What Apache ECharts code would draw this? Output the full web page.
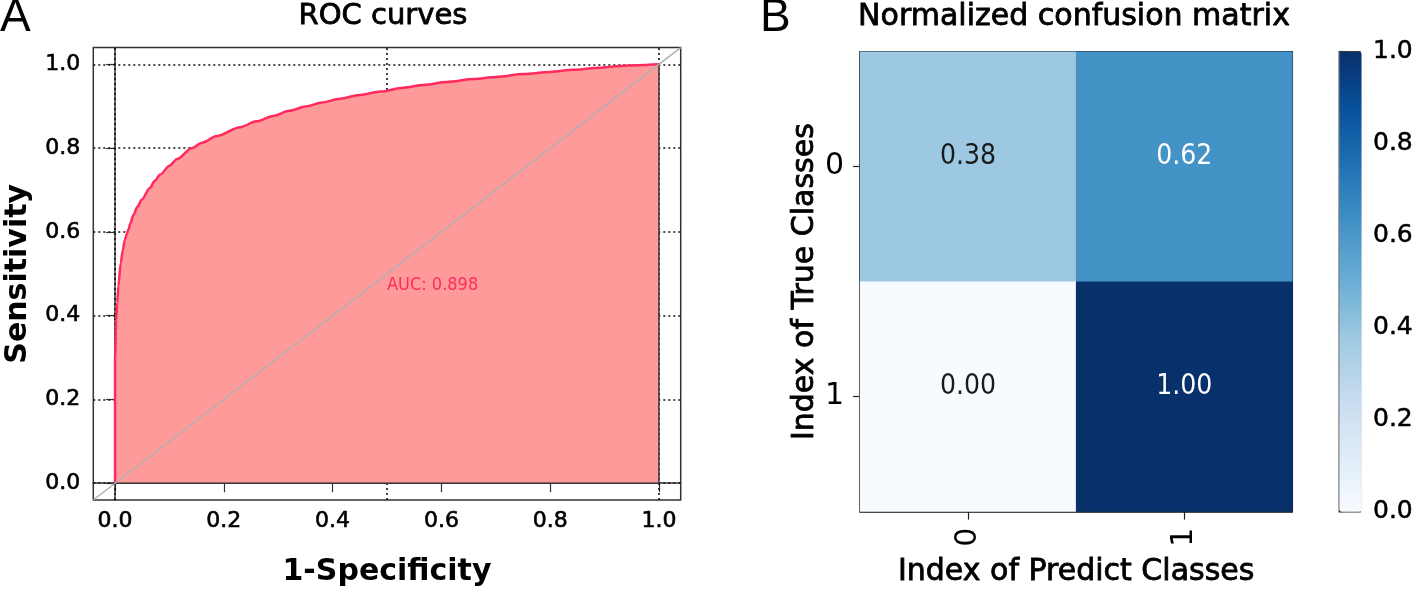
<!DOCTYPE html>
<html>
<head>
<meta charset="utf-8">
<script src="https://cdn.jsdelivr.net/npm/echarts@6/dist/echarts.min.js"></script>
<style>
html,body{margin:0;padding:0;background:#fff;}
#main{width:1416px;height:593px;}
</style>
</head>
<body>
<div id="main"></div>
<script>
// ROC curve
var rocFpr = [0, 0, 0.002, 0.004, 0.006, 0.0105, 0.014, 0.018, 0.021, 0.0245, 0.028, 0.034, 0.041, 0.049, 0.064, 0.073, 0.083, 0.100, 0.114, 0.141, 0.160, 0.187, 0.230, 0.260, 0.291, 0.320, 0.353, 0.380, 0.414, 0.450, 0.488, 0.530, 0.567, 0.610, 0.660, 0.700, 0.752, 0.800, 0.844, 0.890, 0.929, 0.960, 1.0];
var rocTpr = [0, 0.30, 0.39, 0.43, 0.47, 0.526, 0.555, 0.581, 0.593, 0.605, 0.620, 0.641, 0.660, 0.677, 0.705, 0.722, 0.737, 0.758, 0.774, 0.800, 0.813, 0.829, 0.850, 0.864, 0.877, 0.889, 0.900, 0.909, 0.918, 0.927, 0.935, 0.944, 0.951, 0.958, 0.965, 0.970, 0.977, 0.982, 0.987, 0.992, 0.996, 0.998, 1.0];
var aucText = 'AUC: 0.898';
var aucPos = [0.5, 0.473];
var diagonal = [[-0.04, -0.04], [1.04, 1.04]];
var fillEdge = [[0, 0], [1, 0], [1, 1]];
var rocTicks = [0, 0.2, 0.4, 0.6, 0.8, 1.0];
var rocGridX = [0, 0.5, 1.0];
var rocGridY = [0, 0.2, 0.4, 0.6, 0.8, 1.0];

// Confusion matrix
var predClasses = ['0', '1'];
var trueClasses = ['0', '1'];
var cmRow0 = [0.38, 0.62];
var cmRow1 = [0.00, 1.00];
var colorbarTicks = [0, 0.2, 0.4, 0.6, 0.8, 1.0];
var blues = ['#f7fbff', '#deebf7', '#c6dbef', '#9ecae1', '#6baed6', '#4292c6', '#2171b5', '#08519c', '#08306b'];

var rocData = rocFpr.map(function (x, i) { return [x, rocTpr[i]]; });
var cmData = [];
[cmRow0, cmRow1].forEach(function (row, r) {
  row.forEach(function (v, c) { cmData.push([c, r, v]); });
});

var F = 'DejaVu Sans';
var NARROW = "'Liberation Sans Narrow', 'DejaVu Sans Condensed', 'Roboto Condensed', Roboto, sans-serif";
var chart = echarts.init(document.getElementById('main'), null, {renderer: 'canvas'});
var markData = rocGridX.map(function (v) { return {xAxis: v}; })
  .concat(rocGridY.map(function (v) { return {yAxis: v}; }));

chart.setOption({
  animation: false,
  backgroundColor: '#ffffff',
  title: [
    {text: 'A', left: 0, top: -5, padding: 0, textStyle: {fontFamily: 'Liberation Sans', fontSize: 46, fontWeight: 'normal', color: '#000'}},
    {text: 'ROC curves', left: 383, top: 2, padding: 0, textAlign: 'center', textStyle: {fontFamily: F, fontSize: 29, fontWeight: 'normal', color: '#000', textBorderColor: '#000', textBorderWidth: 0.8}},
    {text: 'B', left: 760, top: -5, padding: 0, textStyle: {fontFamily: 'Liberation Sans', fontSize: 46, fontWeight: 'normal', color: '#000'}},
    {text: 'Normalized confusion matrix', left: 1074, top: 2, padding: 0, textAlign: 'center', textStyle: {fontFamily: F, fontSize: 30, fontWeight: 'normal', color: '#000', textBorderColor: '#000', textBorderWidth: 0.8}}
  ],
  grid: [
    {left: 93.3, top: 47.6, width: 587.4, height: 452.4, show: true, borderColor: '#333', borderWidth: 1.5, backgroundColor: '#fff', containLabel: false},
    {left: 860, top: 51.7, width: 432.3, height: 460, show: true, borderColor: '#222', borderWidth: 1.5, containLabel: false},
    {left: 1339.3, top: 51.7, width: 22.4, height: 460, show: true, borderColor: '#333', borderWidth: 1.5, containLabel: false}
  ],
  xAxis: [
    {gridIndex: 0, type: 'value', min: -0.04, max: 1.04,
      name: '1-Specificity', nameLocation: 'middle', nameGap: 57,
      nameTextStyle: {fontFamily: F, fontSize: 30, fontWeight: 'bold', color: '#000'},
      axisLine: {show: true, lineStyle: {color: '#333', width: 1.5}},
      axisTick: {show: true, length: 9, customValues: rocTicks, lineStyle: {color: '#333', width: 1.2}},
      axisLabel: {show: true, customValues: rocTicks, margin: 10, fontFamily: F, fontSize: 22, color: '#000', textBorderColor: '#000', textBorderWidth: 0.6, formatter: function (v) { return v.toFixed(1); }},
      splitLine: {show: false}},
    {gridIndex: 1, type: 'category', data: predClasses,
      name: 'Index of Predict Classes', nameLocation: 'middle', nameGap: 46,
      nameTextStyle: {fontFamily: F, fontSize: 30, color: '#000', textBorderColor: '#000', textBorderWidth: 0.8},
      axisLine: {show: true, lineStyle: {color: '#222', width: 1.5}},
      axisTick: {show: true, alignWithLabel: true, length: 8, lineStyle: {color: '#222', width: 1.2}},
      axisLabel: {rotate: 90, margin: 16, fontFamily: F, fontSize: 30, color: '#000'},
      splitLine: {show: false}},
    {gridIndex: 2, type: 'value', min: 0, max: 1, show: false}
  ],
  yAxis: [
    {gridIndex: 0, type: 'value', min: -0.04, max: 1.04,
      name: 'Sensitivity', nameLocation: 'middle', nameGap: 60,
      nameTextStyle: {fontFamily: F, fontSize: 30, fontWeight: 'bold', color: '#000'},
      axisLine: {show: true, lineStyle: {color: '#333', width: 1.5}},
      axisTick: {show: true, length: 9, customValues: rocTicks, lineStyle: {color: '#333', width: 1.2}},
      axisLabel: {show: true, customValues: rocTicks, margin: 13, fontFamily: F, fontSize: 22, color: '#000', textBorderColor: '#000', textBorderWidth: 0.6, formatter: function (v) { return v.toFixed(1); }},
      splitLine: {show: false}},
    {gridIndex: 1, type: 'category', data: trueClasses, inverse: true,
      name: 'Index of True Classes', nameLocation: 'middle', nameGap: 40,
      nameTextStyle: {fontFamily: F, fontSize: 30, color: '#000', textBorderColor: '#000', textBorderWidth: 0.8},
      axisLine: {show: true, lineStyle: {color: '#222', width: 1.5}},
      axisTick: {show: true, alignWithLabel: true, length: 7, lineStyle: {color: '#222', width: 1.2}},
      axisLabel: {margin: 16, fontFamily: F, fontSize: 30, color: '#000'},
      splitLine: {show: false}},
    {gridIndex: 2, type: 'value', min: 0, max: 1, interval: 0.2, position: 'right',
      axisLine: {show: false},
      axisTick: {show: true, length: 7, lineStyle: {color: '#333', width: 1.2}},
      axisLabel: {margin: 13, fontFamily: F, fontSize: 25, color: '#000', textBorderColor: '#000', textBorderWidth: 0.5, formatter: function (v) { return v.toFixed(1); }},
      splitLine: {show: false}}
  ],
  visualMap: [{
    type: 'continuous', min: 0, max: 1, seriesIndex: 4, dimension: 2,
    left: 1339.3, top: 51.7, itemWidth: 22.4, itemHeight: 460, padding: 0,
    calculable: false, hoverLink: false, text: null, showLabel: false,
    inRange: {color: blues}
  }],
  series: [
    {type: 'line', name: 'grid', xAxisIndex: 0, yAxisIndex: 0, data: [], silent: true,
      markLine: {z: 1, silent: true, symbol: 'none', label: {show: false},
        lineStyle: {type: [2, 3], color: '#111', width: 1.6}, data: markData}},
    {type: 'line', name: 'ROC', xAxisIndex: 0, yAxisIndex: 0, z: 3, data: rocData,
      showSymbol: false, symbol: 'none', smooth: 0.3, smoothMonotone: 'x',
      lineStyle: {color: '#ff2a5d', width: 2.5},
      areaStyle: {color: '#ff9a9a', opacity: 1, origin: 0}},
    {type: 'line', name: 'edge', xAxisIndex: 0, yAxisIndex: 0, z: 4, data: fillEdge,
      symbol: 'none', lineStyle: {color: '#333', width: 1.5}},
    {type: 'line', name: 'diag', xAxisIndex: 0, yAxisIndex: 0, z: 5, data: diagonal,
      symbol: 'none', lineStyle: {color: '#b0b0b0', width: 1.5},
      markPoint: {symbol: 'circle', symbolSize: 0, silent: true,
        label: {show: true, position: 'right', distance: 0, formatter: aucText,
          fontFamily: NARROW, fontSize: 18, color: '#ff2a5d'},
        data: [{coord: aucPos}]}},
    {type: 'heatmap', name: 'cm', xAxisIndex: 1, yAxisIndex: 1,
      data: cmData.map(function (d) {
        return {value: d, label: {color: d[2] > 0.5 ? '#ffffff' : '#1a1a1a'}};
      }),
      itemStyle: {borderWidth: 0},
      label: {show: true, offset: [0, -10], fontFamily: NARROW, fontSize: 28,
        formatter: function (p) { return p.value[2].toFixed(2); }},
      emphasis: {disabled: true}}
  ]
});
</script>
</body>
</html>
